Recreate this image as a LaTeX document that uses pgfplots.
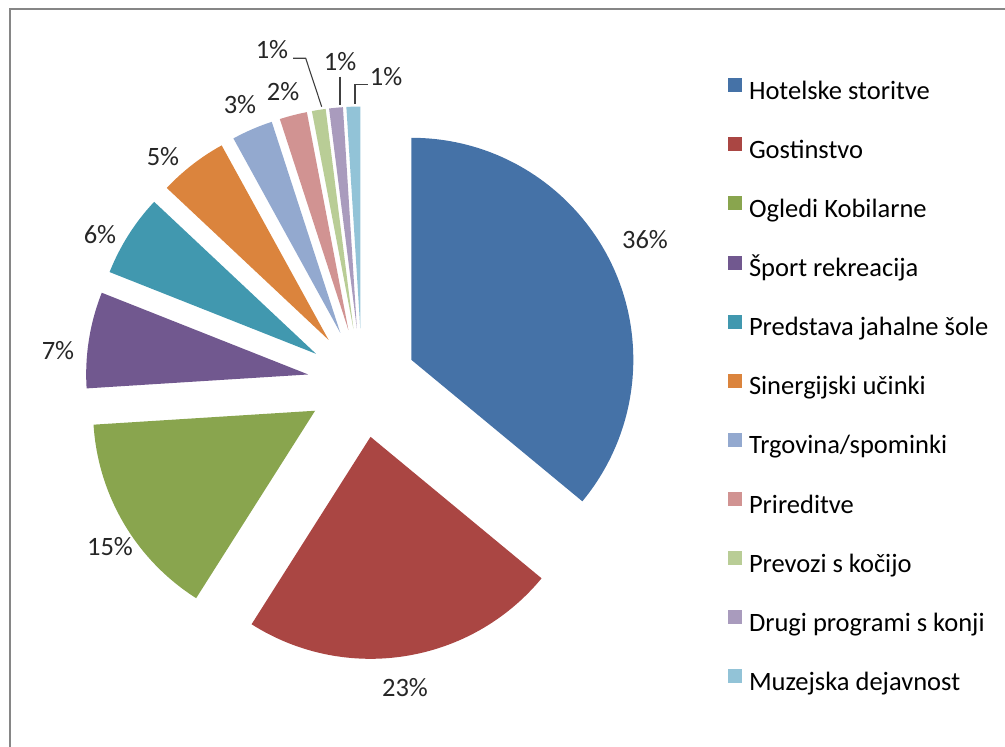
\documentclass[border=0pt]{standalone}
\usepackage{fontspec}
\setmainfont{Carlito}
\usepackage{pgfplots}
\usepackage{pgfplotstable}
\pgfplotsset{compat=1.18}

\definecolor{c0}{RGB}{69,114,167}
\definecolor{c1}{RGB}{170,70,67}
\definecolor{c2}{RGB}{137,165,78}
\definecolor{c3}{RGB}{113,88,143}
\definecolor{c4}{RGB}{65,152,175}
\definecolor{c5}{RGB}{219,132,61}
\definecolor{c6}{RGB}{147,169,207}
\definecolor{c7}{RGB}{209,147,146}
\definecolor{c8}{RGB}{185,205,150}
\definecolor{c9}{RGB}{169,155,189}
\definecolor{c10}{RGB}{146,195,215}
\definecolor{framegray}{RGB}{134,134,134}

% value = share in percent; lx, ly = position of its data label
\pgfplotstableread{
value lx ly
36 645 507
23 405 59
15 110 200
7 58 396
6 100 512
5 163 590
3 240 642
2 283 655
1 272 697
1 340 685
1 386 670
}\piedata

% pie geometry (in px of the picture): centre, explosion, radius
\def\cx{362}\def\cy{364}\def\dex{54.5}\def\rad{222}

% cumulative angles (clockwise from 12 o'clock)
\def\cum{0}
\pgfplotsforeachungrouped \i in {0,...,10}{%
  \pgfplotstablegetelem{\i}{value}\of\piedata
  \let\val\pgfplotsretval
  \pgfmathsetmacro\s{90-3.6*\cum}%
  \pgfmathsetmacro\e{\s-3.6*\val}%
  \pgfmathsetmacro\m{(\s+\e)/2}%
  \pgfmathsetmacro\vx{\cx+\dex*cos(\m)}%
  \pgfmathsetmacro\vy{\cy+\dex*sin(\m)}%
  \expandafter\xdef\csname ps\i\endcsname{\s}%
  \expandafter\xdef\csname pe\i\endcsname{\e}%
  \expandafter\xdef\csname vx\i\endcsname{\vx}%
  \expandafter\xdef\csname vy\i\endcsname{\vy}%
  \pgfmathsetmacro\cum{\cum+\val}%
  \xdef\cum{\cum}%
}

\begin{document}
\begin{tikzpicture}
\useasboundingbox (0,0) rectangle (1005pt,747pt);
\begin{axis}[
  at={(0,0)}, anchor=south west,
  scale only axis, x=1pt, y=1pt,
  xmin=0, xmax=1005, ymin=0, ymax=747,
  enlargelimits=false, hide axis, clip=false,
  /pgf/number format/assume math mode=true,
  legend image code/.code={\fill[#1] (0pt,0.6pt) rectangle (14pt,14.6pt);},
  legend cell align=left,
  legend style={
    at={(0.72438,0.8952)}, anchor=north west,
    draw=none, fill=none, inner sep=0pt, outer sep=0pt,
    font=\fontsize{26.5}{31}\selectfont,
    nodes={inner sep=0pt, text height=19pt, text depth=6pt},
    row sep=32pt,
    /tikz/every odd column/.append style={column sep=7pt},
  },
]
% frame
\draw[framegray, line width=2pt] (axis cs:10,0) -- (axis cs:10,737.7) -- (axis cs:1005,737.7);

% wedges
\pgfplotsinvokeforeach{0,...,10}{
  \fill[c#1] (axis cs:\csname vx#1\endcsname,\csname vy#1\endcsname)
     -- ++(\csname ps#1\endcsname:\rad pt)
     arc[start angle=\csname ps#1\endcsname, end angle=\csname pe#1\endcsname, radius=\rad pt]
     -- cycle;
}

% leader lines for the small slices
\draw[black!75, line width=1.1pt] (axis cs:293,688.7) -- (axis cs:305.7,688.7) -- (axis cs:321.7,640.3);
\draw[black!75, line width=1.1pt] (axis cs:340,670.3) -- (axis cs:340,642);
\draw[black!75, line width=1.1pt] (axis cs:367.7,662.7) -- (axis cs:355,662.7) -- (axis cs:355,643);

% data labels
\addplot[forget plot, draw=none, mark=none,
  point meta=explicit,
  nodes near coords={\pgfmathprintnumber[assume math mode=true]{\pgfplotspointmeta}\%},
  every node near coord/.append style={anchor=center, inner sep=0pt,
     font=\fontsize{26.5}{31}\selectfont, text=black!85},
] table[x=lx, y=ly, meta=value] {\piedata};

\addlegendimage{fill=c0, draw=none}
\addlegendimage{fill=c1, draw=none}
\addlegendimage{fill=c2, draw=none}
\addlegendimage{fill=c3, draw=none}
\addlegendimage{fill=c4, draw=none}
\addlegendimage{fill=c5, draw=none}
\addlegendimage{fill=c6, draw=none}
\addlegendimage{fill=c7, draw=none}
\addlegendimage{fill=c8, draw=none}
\addlegendimage{fill=c9, draw=none}
\addlegendimage{fill=c10, draw=none}
\legend{Hotelske storitve, Gostinstvo, Ogledi Kobilarne, Šport rekreacija,
  Predstava jahalne šole, Sinergijski učinki, Trgovina/spominki, Prireditve,
  Prevozi s kočijo, Drugi programi s konji, Muzejska dejavnost}
\end{axis}
\end{tikzpicture}
\end{document}
